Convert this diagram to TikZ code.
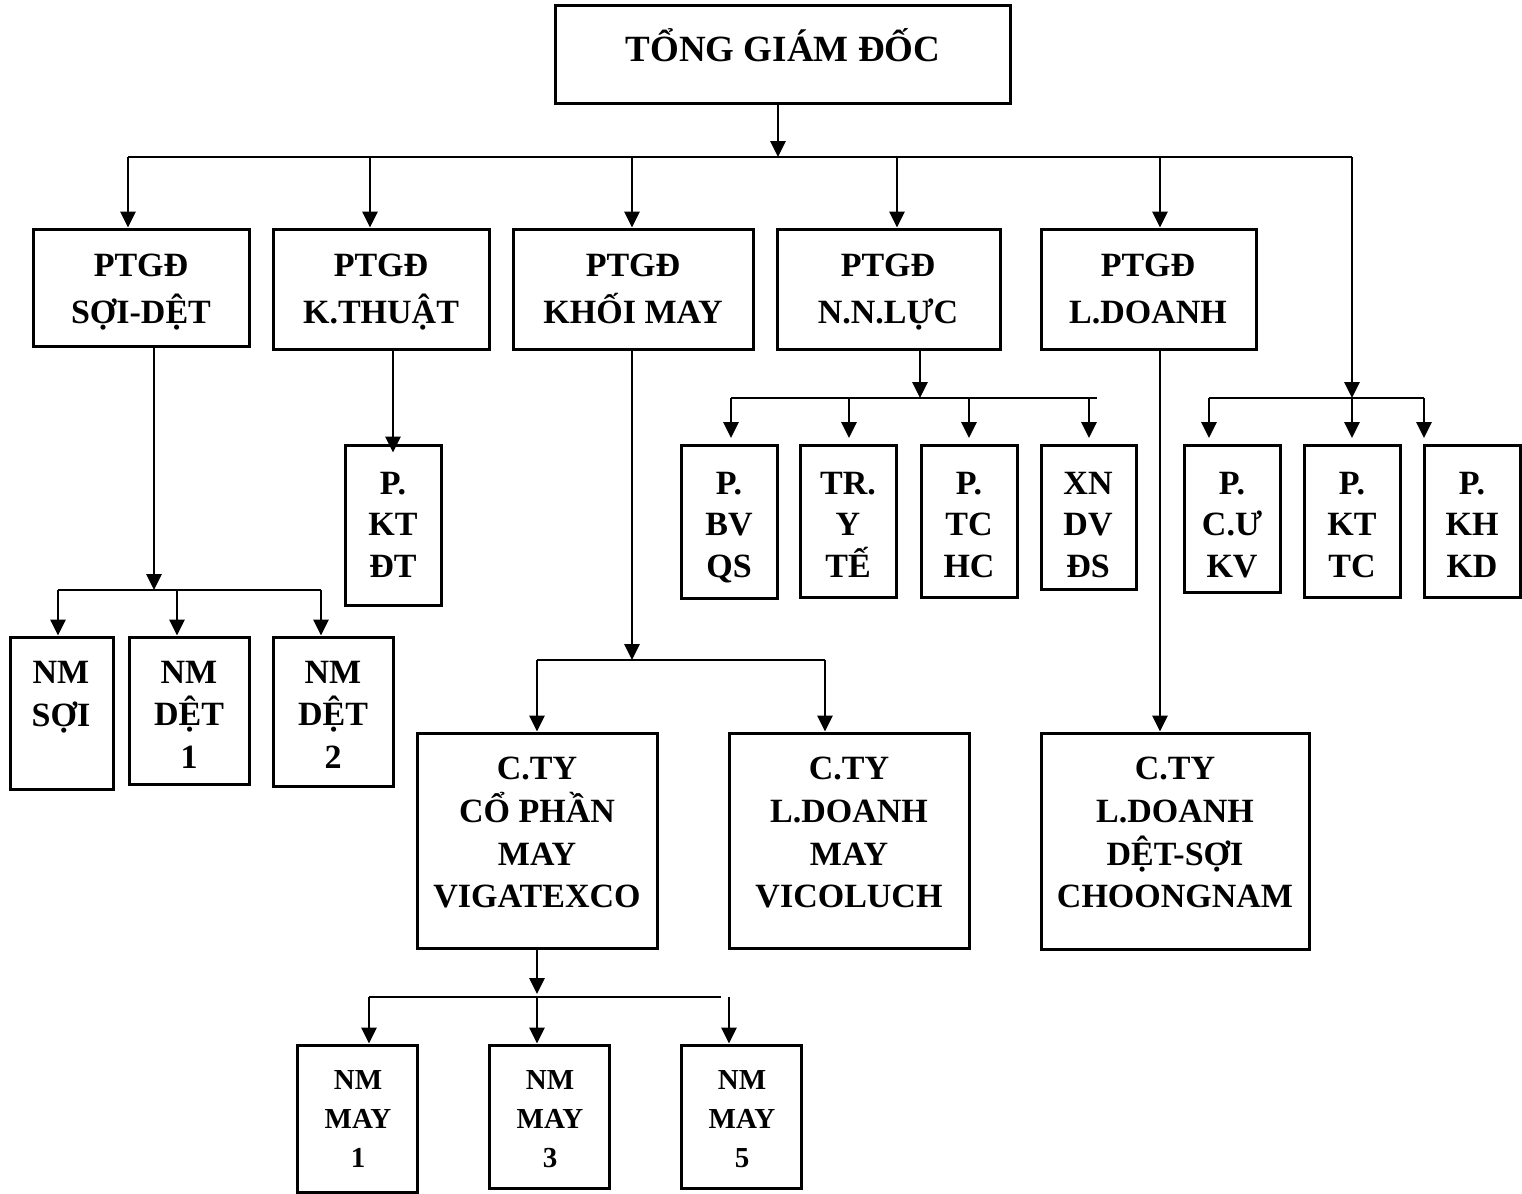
\documentclass[tikz,border=0pt]{standalone}
\usepackage{fontspec}
\setmainfont{Liberation Serif}
\usetikzlibrary{arrows.meta,fit}
\begin{document}
\begin{tikzpicture}[x=0.5pt,y=-0.5pt,
  box/.style={draw, line width=1.5pt, inner sep=0pt},
  txt/.style={inner sep=0pt, align=center,
    font=\bfseries\fontsize{17}{#1}\selectfont,
    execute at begin node=\strut, execute at end node=\strut},
  txt/.default=21pt,
  small/.style={txt=19.5pt, font=\bfseries\fontsize{14.5}{19.5}\selectfont},
  wire/.style={line width=1.35pt},
  arr/.style={wire, -{Triangle[length=8pt,width=7.5pt]}}]
\useasboundingbox (0,0) rectangle (1522,1194);

% ---- boxes and their labels ----
\node[box, fit={(555,5) (1010,103)}] (top) {};
\node[txt, font=\bfseries\fontsize{18.5}{22}\selectfont] (top-t) at (783,52) {TỔNG GIÁM ĐỐC};

\node[box, fit={(33,229) (249,346)}]    (b1) {};
\node[box, fit={(273,229) (489,349)}]   (b2) {};
\node[box, fit={(513,229) (753,349)}]   (b3) {};
\node[box, fit={(777,229) (1000,349)}]  (b4) {};
\node[box, fit={(1041,229) (1256,349)}] (b5) {};
\node[txt=23.5pt] (b1-t) at (141,296) {PTGĐ\\SỢI-DỆT};
\node[txt=23.5pt] (b2-t) at (381,296) {PTGĐ\\K.THUẬT};
\node[txt=23.5pt] (b3-t) at (633,296) {PTGĐ\\KHỐI MAY};
\node[txt=23.5pt] (b4-t) at (888,296) {PTGĐ\\N.N.LỰC};
\node[txt=23.5pt] (b5-t) at (1148,296) {PTGĐ\\L.DOANH};

\node[box, fit={(345,445) (441,605)}]   (ktdt) {};
\node[box, fit={(681,445) (777,598)}]   (bvqs) {};
\node[box, fit={(800,445) (896,597)}]   (yte)  {};
\node[box, fit={(921,445) (1017,597)}]  (tchc) {};
\node[box, fit={(1041,445) (1136,589)}] (xnds) {};
\node[box, fit={(1184,445) (1280,592)}] (cukv) {};
\node[box, fit={(1304,445) (1400,597)}] (kttc) {};
\node[box, fit={(1424,445) (1520,597)}] (khkd) {};
\node[txt=20.75pt] (ktdt-t) at (393,531)  {P.\\KT\\ĐT};
\node[txt=20.75pt] (bvqs-t) at (729,531)  {P.\\BV\\QS};
\node[txt=20.75pt] (yte-t)  at (848,531)  {TR.\\Y\\TẾ};
\node[txt=20.75pt] (tchc-t) at (969,531)  {P.\\TC\\HC};
\node[txt=20.75pt] (xnds-t) at (1088,531) {XN\\DV\\ĐS};
\node[txt=20.75pt] (cukv-t) at (1232,531) {P.\\C.Ư\\KV};
\node[txt=20.75pt] (kttc-t) at (1352,531) {P.\\KT\\TC};
\node[txt=20.75pt] (khkd-t) at (1472,531) {P.\\KH\\KD};

\node[box, fit={(10,637) (113,789)}]  (nmsoi) {};
\node[box, fit={(129,637) (249,784)}] (nmd1)  {};
\node[box, fit={(273,637) (393,786)}] (nmd2)  {};
\node[txt=21.25pt] (nmsoi-t) at (61,700)  {NM\\SỢI};
\node[txt=21.25pt] (nmd1-t)  at (189,721) {NM\\DỆT\\1};
\node[txt=21.25pt] (nmd2-t)  at (333,721) {NM\\DỆT\\2};

\node[box, fit={(417,733) (657,948)}]   (vig) {};
\node[box, fit={(729,733) (969,948)}]   (vic) {};
\node[box, fit={(1041,733) (1309,949)}] (cho) {};
\node[txt=21.3pt] (vig-t) at (537,839)  {C.TY\\CỔ PHẦN\\MAY\\VIGATEXCO};
\node[txt=21.3pt] (vic-t) at (849,839)  {C.TY\\L.DOANH\\MAY\\VICOLUCH};
\node[txt=21.3pt] (cho-t) at (1175,839) {C.TY\\L.DOANH\\DỆT-SỢI\\CHOONGNAM};

\node[box, fit={(297,1045) (417,1192)}] (nm1) {};
\node[box, fit={(489,1045) (609,1188)}] (nm3) {};
\node[box, fit={(681,1045) (801,1188)}] (nm5) {};
\node[small] (nm1-t) at (358,1125) {NM\\MAY\\1};
\node[small] (nm3-t) at (550,1125) {NM\\MAY\\3};
\node[small] (nm5-t) at (742,1125) {NM\\MAY\\5};

% ---- main bus ----
\coordinate (hub) at (778,157);
\coordinate (busL) at (128,157);
\coordinate (busR) at (1352,157);
\draw[arr] (top.south -| hub) -- (hub);
\draw[wire] (busL) -- (busR);
\foreach \x/\b in {128/b1, 370/b2, 632/b3, 897/b4, 1160/b5}{
  \coordinate (d\b) at (\x,157);
  \draw[arr] (d\b) -- (d\b |- \b.north);
}

% ---- SỢI-DỆT branch ----
\coordinate (s0) at (154,590);
\draw[arr] (b1.south -| s0) -- (s0);
\draw[wire] (58,590) -- (321,590);
\foreach \x/\b in {58/nmsoi, 177/nmd1, 321/nmd2}{
  \coordinate (s\b) at (\x,590);
  \draw[arr] (s\b) -- (s\b |- \b.north);
}

% ---- K.THUẬT branch ----
\coordinate (k0) at (393,349);
\draw[arr, shorten >=-4.5pt] (k0 |- b2.south) -- (k0 |- ktdt.north);

% ---- N.N.LỰC branch ----
\coordinate (n0) at (920,398);
\draw[arr] (b4.south -| n0) -- (n0);
\draw[wire] (731,398) -- (1097,398);
\foreach \x/\b in {731/bvqs, 849/yte, 969/tchc, 1089/xnds}{
  \coordinate (n\b) at (\x,398);
  \draw[arr] (n\b) -- (\x,438);
}

% ---- right-hand branch ----
\coordinate (r0) at (1352,398);
\draw[arr] (busR) -- (r0);
\draw[wire] (1209,398) -- (1424,398);
\foreach \x/\b in {1209/cukv, 1352/kttc, 1424/khkd}{
  \coordinate (r\b) at (\x,398);
  \draw[arr] (r\b) -- (\x,438);
}

% ---- KHỐI MAY branch ----
\coordinate (m0) at (632,660);
\draw[arr] (b3.south -| m0) -- (m0);
\draw[wire] (537,660) -- (825,660);
\foreach \x/\b in {537/vig, 825/vic}{
  \coordinate (m\b) at (\x,660);
  \draw[arr] (m\b) -- (m\b |- \b.north);
}

% ---- L.DOANH branch ----
\coordinate (l0) at (1160,349);
\draw[arr] (l0 |- b5.south) -- (l0 |- cho.north);

% ---- VIGATEXCO branch ----
\coordinate (v0) at (537,994);
\draw[arr] (vig.south -| v0) -- (v0);
\draw[wire] (369,997) -- (721,997);
\foreach \x/\b in {369/nm1, 537/nm3, 729/nm5}{
  \coordinate (v\b) at (\x,997);
  \draw[arr] (v\b) -- (v\b |- \b.north);
}
\end{tikzpicture}
\end{document}
